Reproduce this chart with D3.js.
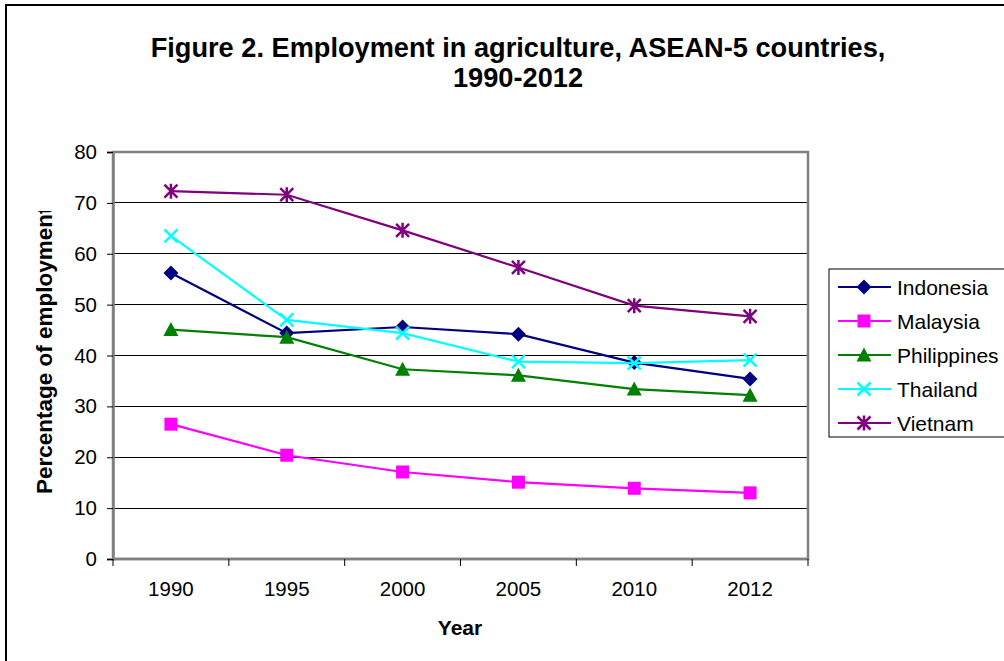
<!DOCTYPE html>
<html><head><meta charset="utf-8">
<script src="https://cdn.jsdelivr.net/npm/d3@7"></script>
<style>body{margin:0;background:#fff}svg{display:block}text{font-family:"Liberation Sans",Arial,sans-serif}</style>
</head><body>
<script>
const years = ["1990","1995","2000","2005","2010","2012"];
const yTicks = [0,10,20,30,40,50,60,70,80];
const indonesia   = [56.2,44.4,45.6,44.2,38.6,35.4];
const malaysia    = [26.5,20.4,17.1,15.1,13.9,13.0];
const philippines = [45.1,43.6,37.3,36.1,33.4,32.2];
const thailand    = [63.5,47.0,44.4,38.8,38.5,39.1];
const vietnam     = [72.3,71.6,64.6,57.3,49.8,47.7];
const seriesNames = ["Indonesia","Malaysia","Philippines","Thailand","Vietnam"];
const seriesColors = ["#000080","#FF00FF","#008000","#00FFFF","#800080"];
const seriesMarkers = ["diamond","square","triangle","x","star"];
const seriesData = [indonesia, malaysia, philippines, thailand, vietnam];

const W=1004,H=661;
const svg=d3.select("body").append("svg").attr("width",W).attr("height",H);
svg.append("rect").attr("x",6).attr("y",5).attr("width",1100).attr("height",800).attr("fill","#fff").attr("stroke","#000").attr("stroke-width",2);

const x=d3.scaleBand().domain(years).range([113,808]).padding(0);
const y=d3.scaleLinear().domain([0,80]).range([559,152]);
const cx=d=>x(d)+x.bandwidth()/2;

// gridlines
svg.append("g").selectAll("line").data(yTicks.filter(t=>t>0&&t<80)).join("line")
  .attr("x1",113).attr("x2",808).attr("y1",d=>y(d)).attr("y2",d=>y(d))
  .attr("stroke","#000").attr("stroke-width",1).attr("shape-rendering","crispEdges");

// plot border
svg.append("rect").attr("x",113).attr("y",y(80)).attr("width",695).attr("height",y(0)-y(80))
  .attr("fill","none").attr("stroke","#808080").attr("stroke-width",2.5);

// y axis
const yAxis=d3.axisLeft(y).tickValues(yTicks).tickSize(6).tickPadding(10);
const gy=svg.append("g").attr("transform","translate(113,0)").call(yAxis);
gy.select(".domain").attr("stroke","#808080").attr("stroke-width",2.5);
gy.selectAll(".tick line").attr("stroke","#000");
gy.selectAll("text").attr("font-size",20.5).attr("fill","#000").attr("font-family","Liberation Sans, Arial, sans-serif");

// x axis: ticks at band boundaries
const gx=svg.append("g").attr("transform","translate(0,559)");
gx.append("line").attr("x1",113).attr("x2",808).attr("stroke","#808080").attr("stroke-width",2.5);
const bounds=years.map(d=>x(d)).concat([x(years[years.length-1])+x.bandwidth()]);
gx.selectAll("line.t").data(bounds).join("line").attr("class","t")
  .attr("x1",d=>d).attr("x2",d=>d).attr("y1",0).attr("y2",7).attr("stroke","#000").attr("stroke-width",1);
gx.selectAll("text").data(years).join("text").attr("x",d=>cx(d)).attr("y",37)
  .attr("text-anchor","middle").attr("font-size",20.5).text(d=>d);

// axis titles
svg.append("text").attr("x",460).attr("y",635).attr("text-anchor","middle").attr("font-size",21).attr("font-weight","bold").text("Year");
svg.append("clipPath").attr("id","yclip").append("rect").attr("x",20).attr("y",211).attr("width",60).attr("height",330);
svg.append("g").attr("clip-path","url(#yclip)").append("text").attr("transform","translate(52,494) rotate(-90)")
  .attr("text-anchor","start").attr("font-size",22.5).attr("font-weight","bold").text("Percentage of employment");

// title
svg.append("text").attr("x",518).attr("y",57).attr("text-anchor","middle").attr("font-size",27.2).attr("font-weight","bold").text("Figure 2. Employment in agriculture, ASEAN-5 countries,");
svg.append("text").attr("x",518).attr("y",87).attr("text-anchor","middle").attr("font-size",27.2).attr("font-weight","bold").text("1990-2012");

function marker(g,type,color,px,py){
  const s=6.5;
  if(type==="diamond") g.append("path").attr("d",`M${px},${py-s-1}L${px+s+1},${py}L${px},${py+s+1}L${px-s-1},${py}Z`).attr("fill",color);
  else if(type==="square") g.append("rect").attr("x",px-s).attr("y",py-s).attr("width",2*s).attr("height",2*s).attr("fill",color);
  else if(type==="triangle") g.append("path").attr("d",`M${px},${py-s-1}L${px+s+1},${py+s}L${px-s-1},${py+s}Z`).attr("fill",color);
  else if(type==="x") g.append("path").attr("d",`M${px-s},${py-s}L${px+s},${py+s}M${px+s},${py-s}L${px-s},${py+s}`).attr("stroke",color).attr("stroke-width",2.5).attr("fill","none");
  else if(type==="star") g.append("path").attr("d",`M${px-s},${py-s}L${px+s},${py+s}M${px+s},${py-s}L${px-s},${py+s}M${px},${py-s-1}L${px},${py+s+1}`).attr("stroke",color).attr("stroke-width",2.5).attr("fill","none");
}

const line=d3.line().x((d,i)=>cx(years[i])).y(d=>y(d));
seriesData.forEach((vals,k)=>{
  const g=svg.append("g");
  g.append("path").datum(vals).attr("d",line).attr("fill","none").attr("stroke",seriesColors[k]).attr("stroke-width",2.2);
  vals.forEach((v,i)=>marker(g,seriesMarkers[k],seriesColors[k],cx(years[i]),y(v)));
});

// legend
const lg=svg.append("g");
lg.append("rect").attr("x",829).attr("y",269).attr("width",200).attr("height",168).attr("fill","#fff").attr("stroke","#000").attr("stroke-width",1);
seriesNames.forEach((n,k)=>{
  const ly=287+k*34;
  lg.append("line").attr("x1",838).attr("x2",891).attr("y1",ly).attr("y2",ly).attr("stroke",seriesColors[k]).attr("stroke-width",2.2);
  marker(lg,seriesMarkers[k],seriesColors[k],864,ly);
  lg.append("text").attr("x",897).attr("y",ly+7.5).attr("font-size",21).text(n);
});
</script>
</body></html>
